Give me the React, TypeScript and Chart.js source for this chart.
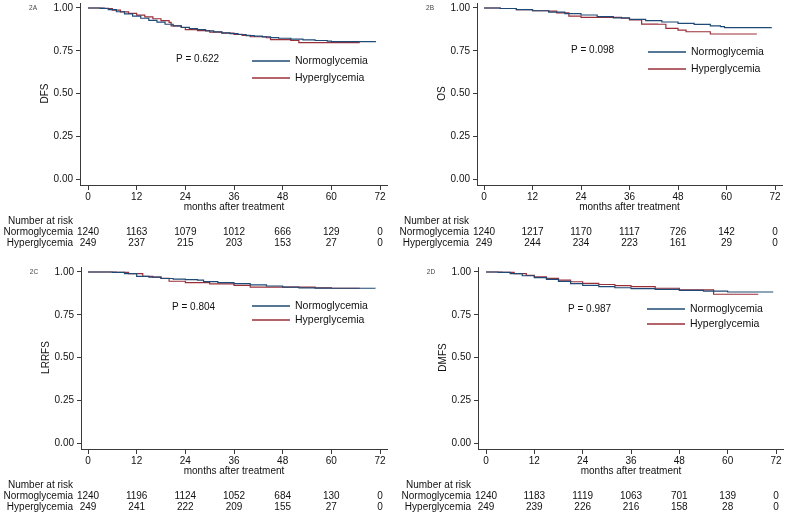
import React, { useEffect, useRef } from "react";
import { Chart, registerables } from "chart.js";

Chart.register(...registerables);

const FONT = '"Liberation Sans", Arial, Helvetica, sans-serif';
const BLUE = "#1f4a75";
const RED = "#9a2f38";
const AXIS = "#3a3a3a";

const monthTicks = [0, 12, 24, 36, 48, 60, 72];
const survivalTicks = [0, 0.25, 0.5, 0.75, 1];
const groupNames = ["Normoglycemia", "Hyperglycemia"];

// 2A DFS
const dfsNormoMonths = [0, 3, 5, 7, 9, 11, 13, 15, 17, 19, 21, 23, 25, 27, 29, 31, 33, 35, 37, 39, 41, 43, 45, 47, 50, 53, 56, 59, 60, 71];
const dfsNormoSurv = [1, 0.998, 0.99, 0.978, 0.966, 0.953, 0.94, 0.928, 0.917, 0.905, 0.895, 0.887, 0.879, 0.873, 0.866, 0.86, 0.855, 0.85, 0.845, 0.839, 0.835, 0.831, 0.827, 0.823, 0.818, 0.814, 0.81, 0.806, 0.803, 0.803];
const dfsHyperMonths = [0, 4, 6, 8, 10, 12, 14, 16, 18, 20, 20.5, 23, 24, 27, 30, 33, 36, 38, 40, 44, 45, 50, 52, 67];
const dfsHyperSurv = [1, 0.997, 0.988, 0.977, 0.968, 0.958, 0.948, 0.937, 0.926, 0.916, 0.895, 0.886, 0.874, 0.868, 0.859, 0.853, 0.846, 0.84, 0.832, 0.826, 0.815, 0.81, 0.798, 0.798];
const dfsRiskNormo = [1240, 1163, 1079, 1012, 666, 129, 0];
const dfsRiskHyper = [249, 237, 215, 203, 153, 27, 0];

// 2B OS
const osNormoMonths = [0, 4, 8, 12, 16, 20, 24, 28, 32, 36, 40, 44, 48, 52, 56, 58.5, 59.5, 71.2];
const osNormoSurv = [1, 0.997, 0.99, 0.984, 0.976, 0.967, 0.959, 0.95, 0.942, 0.934, 0.926, 0.918, 0.91, 0.904, 0.895, 0.891, 0.885, 0.885];
const osHyperMonths = [0, 4, 8, 12, 16, 18, 21, 24, 30, 34, 36, 39, 43, 45, 48, 50, 56, 67.5];
const osHyperSurv = [1, 0.997, 0.99, 0.984, 0.982, 0.972, 0.953, 0.945, 0.945, 0.94, 0.93, 0.906, 0.905, 0.881, 0.871, 0.861, 0.848, 0.848];
const osRiskNormo = [1240, 1217, 1170, 1117, 726, 142, 0];
const osRiskHyper = [249, 244, 234, 223, 161, 29, 0];

// 2C LRRFS
const lrrfsNormoMonths = [0, 6, 9, 12, 15, 18, 21, 24, 27, 28.5, 32, 36, 40, 44, 48, 52, 56, 60, 70.8];
const lrrfsNormoSurv = [1, 0.998, 0.99, 0.975, 0.97, 0.962, 0.958, 0.955, 0.953, 0.944, 0.938, 0.932, 0.925, 0.918, 0.911, 0.907, 0.906, 0.905, 0.903];
const lrrfsHyperMonths = [0, 7, 10, 13.5, 16, 18, 20, 24, 30, 36, 40, 48, 56, 60, 67];
const lrrfsHyperSurv = [1, 0.998, 0.99, 0.975, 0.97, 0.963, 0.946, 0.938, 0.93, 0.922, 0.911, 0.911, 0.907, 0.905, 0.905];
const lrrfsRiskNormo = [1240, 1196, 1124, 1052, 684, 130, 0];
const lrrfsRiskHyper = [249, 241, 222, 209, 155, 27, 0];

// 2D DMFS
const dmfsNormoMonths = [0, 3, 6, 9, 12, 15, 18, 21, 24, 28, 32, 36, 42, 48, 54, 60, 71.3];
const dmfsNormoSurv = [1, 0.998, 0.99, 0.978, 0.967, 0.957, 0.945, 0.932, 0.922, 0.915, 0.908, 0.903, 0.898, 0.893, 0.888, 0.883, 0.883];
const dmfsHyperMonths = [0, 4, 7, 10, 12, 15, 18, 21, 24, 28, 32, 36, 42, 48, 56.5, 67.6];
const dmfsHyperSurv = [1, 0.998, 0.99, 0.98, 0.971, 0.963, 0.953, 0.943, 0.934, 0.927, 0.92, 0.915, 0.905, 0.895, 0.87, 0.87];
const dmfsRiskNormo = [1240, 1183, 1119, 1063, 701, 139, 0];
const dmfsRiskHyper = [249, 239, 226, 216, 158, 28, 0];

const toPoints = (xs: number[], ys: number[]) => xs.map((x, i) => ({ x, y: ys[i] }));

type Spec = {
  tag: string;
  yTitle: string;
  pText: string;
  normo: { x: number; y: number }[];
  hyper: { x: number; y: number }[];
  riskN: number[];
  riskH: number[];
  left: number;
  top: number;
  width: number;
  height: number;
  axisLeft: number;
  x0: number;
  x72: number;
  axisRight: number;
  pX: number;
  pY: number;
  legX: number;
  legY1: number;
  legY2: number;
};

const panels: Spec[] = [
  {
    tag: "2A", yTitle: "DFS", pText: "P = 0.622",
    normo: toPoints(dfsNormoMonths, dfsNormoSurv), hyper: toPoints(dfsHyperMonths, dfsHyperSurv),
    riskN: dfsRiskNormo, riskH: dfsRiskHyper,
    left: 0, top: 0, width: 395, height: 264,
    axisLeft: 80, x0: 88, x72: 380, axisRight: 387,
    pX: 176, pY: 59, legX: 252, legY1: 61, legY2: 78,
  },
  {
    tag: "2B", yTitle: "OS", pText: "P = 0.098",
    normo: toPoints(osNormoMonths, osNormoSurv), hyper: toPoints(osHyperMonths, osHyperSurv),
    riskN: osRiskNormo, riskH: osRiskHyper,
    left: 395, top: 0, width: 392, height: 264,
    axisLeft: 82, x0: 89, x72: 380, axisRight: 387,
    pX: 176, pY: 50, legX: 253, legY1: 52, legY2: 69,
  },
  {
    tag: "2C", yTitle: "LRRFS", pText: "P = 0.804",
    normo: toPoints(lrrfsNormoMonths, lrrfsNormoSurv), hyper: toPoints(lrrfsHyperMonths, lrrfsHyperSurv),
    riskN: lrrfsRiskNormo, riskH: lrrfsRiskHyper,
    left: 0, top: 264, width: 395, height: 252,
    axisLeft: 81, x0: 88, x72: 380, axisRight: 387,
    pX: 172, pY: 43, legX: 252, legY1: 42, legY2: 56,
  },
  {
    tag: "2D", yTitle: "DMFS", pText: "P = 0.987",
    normo: toPoints(dmfsNormoMonths, dmfsNormoSurv), hyper: toPoints(dmfsHyperMonths, dmfsHyperSurv),
    riskN: dmfsRiskNormo, riskH: dmfsRiskHyper,
    left: 395, top: 264, width: 392, height: 252,
    axisLeft: 83, x0: 91, x72: 381, axisRight: 388,
    pX: 173, pY: 45, legX: 252, legY1: 45, legY2: 60,
  },
];

const CHART_TOP = 3;
const CHART_BOTTOM = 185;
const Y_ONE = 8;
const Y_ZERO = 179;

function makeAnnotations(spec: Spec) {
  return {
    id: "annot" + spec.tag,
    afterDraw(chart: any) {
      const ctx = chart.ctx as CanvasRenderingContext2D;
      const xs = chart.scales.x;
      const ys = chart.scales.y;
      ctx.save();
      // panel tag
      ctx.fillStyle = "#444";
      ctx.font = `6.5px ${FONT}`;
      ctx.textAlign = "center";
      ctx.textBaseline = "middle";
      ctx.fillText(spec.tag, spec.axisLeft - 47, ys.getPixelForValue(1));
      // y title
      ctx.fillStyle = "#111";
      ctx.font = `10px ${FONT}`;
      ctx.save();
      ctx.translate(spec.axisLeft - 35, ys.getPixelForValue(0.5));
      ctx.rotate(-Math.PI / 2);
      ctx.fillText(spec.yTitle, 0, 0);
      ctx.restore();
      // x title
      ctx.fillText("months after treatment", xs.getPixelForValue(36), 207);
      // P value
      ctx.textAlign = "left";
      ctx.fillText(spec.pText, spec.pX, spec.pY);
      // legend
      const legLines = [spec.legY1, spec.legY2];
      const legColors = [BLUE, RED];
      ctx.font = `10.5px ${FONT}`;
      legLines.forEach((ly, i) => {
        ctx.strokeStyle = legColors[i];
        ctx.lineWidth = 1.3;
        ctx.beginPath();
        ctx.moveTo(spec.legX, ly);
        ctx.lineTo(spec.legX + 38, ly);
        ctx.stroke();
        ctx.fillStyle = "#111";
        ctx.fillText(groupNames[i], spec.legX + 43, ly + 0.5);
      });
      // risk table
      ctx.font = `10px ${FONT}`;
      ctx.textAlign = "left";
      ctx.fillText("Number at risk", spec.x0 - 80, 221);
      const rows = [spec.riskN, spec.riskH];
      const rowY = [232, 243];
      rows.forEach((vals, r) => {
        ctx.textAlign = "right";
        ctx.fillText(groupNames[r], spec.x0 - 15, rowY[r]);
        ctx.textAlign = "center";
        vals.forEach((v, i) => {
          ctx.fillText(String(v), xs.getPixelForValue(monthTicks[i]), rowY[r]);
        });
      });
      ctx.restore();
    },
  };
}

function zeroPadding(scale: any) {
  scale.paddingTop = 0;
  scale.paddingBottom = 0;
  scale.paddingLeft = 0;
  scale.paddingRight = 0;
}

function Panel({ spec }: { spec: Spec }) {
  const ref = useRef<HTMLCanvasElement>(null);
  useEffect(() => {
    const pxPerMonth = (spec.x72 - spec.x0) / 72;
    const xMin = -(spec.x0 - spec.axisLeft) / pxPerMonth;
    const xMax = 72 + (spec.axisRight - spec.x72) / pxPerMonth;
    const pxPerUnit = Y_ZERO - Y_ONE;
    const yMin = -(CHART_BOTTOM - Y_ZERO) / pxPerUnit;
    const yMax = 1 + (Y_ONE - CHART_TOP) / pxPerUnit;
    const chart = new Chart(ref.current as HTMLCanvasElement, {
      type: "line",
      data: {
        datasets: [
          {
            label: groupNames[0],
            data: spec.normo,
            borderColor: BLUE,
            borderWidth: 1.2,
            pointRadius: 0,
            stepped: true,
            fill: false,
          },
          {
            label: groupNames[1],
            data: spec.hyper,
            borderColor: RED,
            borderWidth: 1.2,
            pointRadius: 0,
            stepped: true,
            fill: false,
          },
        ],
      },
      options: {
        responsive: false,
        animation: false,
        events: [],
        layout: {
          padding: { left: 0, top: CHART_TOP, right: spec.width - spec.axisRight, bottom: 0 },
        },
        plugins: {
          legend: { display: false },
          tooltip: { enabled: false },
        },
        scales: {
          x: {
            type: "linear",
            min: xMin,
            max: xMax,
            afterBuildTicks: (scale: any) => {
              scale.ticks = monthTicks.map((v) => ({ value: v }));
            },
            afterFit: (scale: any) => {
              scale.height = spec.height - CHART_BOTTOM;
              zeroPadding(scale);
            },
            ticks: {
              color: "#111",
              font: { family: FONT, size: 10 },
              padding: 1,
              maxRotation: 0,
              autoSkip: false,
              callback: (v: any) => String(v),
            },
            grid: {
              display: true,
              drawOnChartArea: false,
              drawTicks: true,
              tickLength: 5,
              color: AXIS,
            },
            border: { display: true, color: AXIS, width: 1 },
          },
          y: {
            type: "linear",
            min: yMin,
            max: yMax,
            afterBuildTicks: (scale: any) => {
              scale.ticks = survivalTicks.map((v) => ({ value: v }));
            },
            afterFit: (scale: any) => {
              scale.width = spec.axisLeft;
              zeroPadding(scale);
            },
            ticks: {
              color: "#111",
              font: { family: FONT, size: 10 },
              padding: 3,
              autoSkip: false,
              callback: (v: any) => Number(v).toFixed(2),
            },
            grid: {
              display: true,
              drawOnChartArea: false,
              drawTicks: true,
              tickLength: 4,
              color: AXIS,
            },
            border: { display: true, color: AXIS, width: 1 },
          },
        },
      },
      plugins: [makeAnnotations(spec)],
    } as any);
    return () => chart.destroy();
  }, [spec]);
  return (
    <canvas
      ref={ref}
      width={spec.width}
      height={spec.height}
      style={{
        position: "absolute",
        left: spec.left,
        top: spec.top,
        width: spec.width,
        height: spec.height,
        display: "block",
      }}
    />
  );
}

export default function App() {
  return (
    <div
      style={{
        position: "absolute",
        left: 0,
        top: 0,
        width: 787,
        height: 516,
        background: "#ffffff",
        overflow: "hidden",
      }}
    >
      {panels.map((p) => (
        <Panel key={p.tag} spec={p} />
      ))}
    </div>
  );
}
